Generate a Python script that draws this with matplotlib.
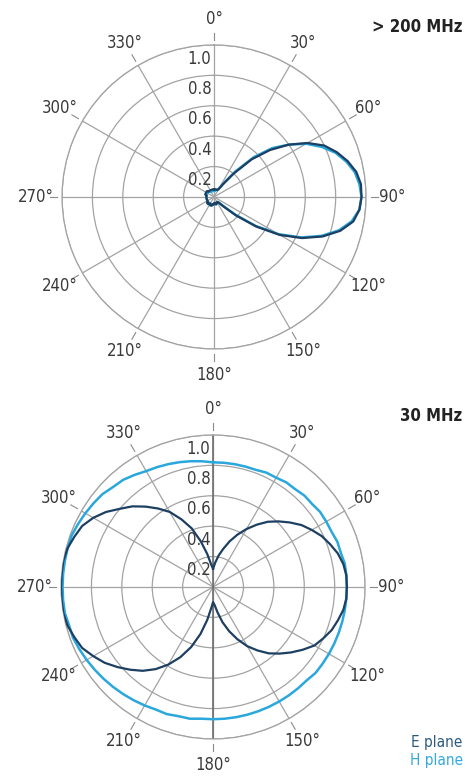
import numpy as np
import matplotlib
matplotlib.use("Agg")
import matplotlib.pyplot as plt
from matplotlib import transforms

plt.rcParams['font.family'] = ['DejaVu Sans']
plt.rcParams['font.stretch'] = 'condensed'

# radiation patterns every 5 degrees (clockwise from 0 at top), normalised field
deg = list(range(0, 365, 5))

# > 200 MHz
hi_e = [0.05, 0.05, 0.05, 0.05, 0.05, 0.05, 0.06, 0.10, 0.20, 0.35,
        0.48, 0.60, 0.71, 0.80, 0.86, 0.91, 0.95, 0.97, 0.97, 0.96,
        0.93, 0.86, 0.76, 0.64, 0.50, 0.34, 0.19, 0.09, 0.05, 0.04,
        0.04, 0.04, 0.05, 0.05, 0.04, 0.04, 0.04, 0.05, 0.05, 0.06,
        0.06, 0.06, 0.05, 0.05, 0.06, 0.06, 0.06, 0.05, 0.05, 0.05,
        0.05, 0.05, 0.05, 0.05, 0.05, 0.05, 0.05, 0.06, 0.06, 0.06,
        0.06, 0.06, 0.06, 0.05, 0.05, 0.05, 0.05, 0.05, 0.05, 0.05,
        0.05, 0.05, 0.05]
hi_h = [0.04, 0.04, 0.05, 0.05, 0.05, 0.05, 0.06, 0.11, 0.22, 0.37,
        0.50, 0.60, 0.70, 0.78, 0.85, 0.90, 0.94, 0.96, 0.97, 0.96,
        0.92, 0.85, 0.75, 0.63, 0.49, 0.33, 0.18, 0.08, 0.05, 0.04,
        0.04, 0.04, 0.04, 0.05, 0.05, 0.05, 0.05, 0.05, 0.05, 0.05,
        0.05, 0.06, 0.06, 0.06, 0.06, 0.06, 0.05, 0.05, 0.05, 0.05,
        0.05, 0.05, 0.05, 0.05, 0.05, 0.05, 0.05, 0.05, 0.05, 0.05,
        0.05, 0.05, 0.05, 0.05, 0.05, 0.04, 0.04, 0.04, 0.04, 0.04,
        0.04, 0.04, 0.04]

# 30 MHz
lo_e = [0.12, 0.16, 0.21, 0.26, 0.32, 0.38, 0.44, 0.50, 0.56, 0.61,
        0.66, 0.71, 0.75, 0.79, 0.82, 0.85, 0.87, 0.88, 0.88, 0.88,
        0.87, 0.85, 0.83, 0.80, 0.77, 0.72, 0.67, 0.62, 0.57, 0.51,
        0.45, 0.38, 0.31, 0.24, 0.17, 0.12, 0.10, 0.14, 0.22, 0.32,
        0.42, 0.51, 0.59, 0.66, 0.72, 0.77, 0.82, 0.87, 0.91, 0.95,
        0.97, 0.99, 1.00, 1.00, 1.00, 1.00, 1.00, 0.99, 0.97, 0.95,
        0.91, 0.86, 0.80, 0.75, 0.69, 0.63, 0.57, 0.49, 0.41, 0.31,
        0.22, 0.15, 0.12]
lo_h = [0.82, 0.82, 0.82, 0.82, 0.82, 0.83, 0.83, 0.84, 0.84, 0.85,
        0.85, 0.86, 0.86, 0.86, 0.87, 0.87, 0.88, 0.88, 0.88, 0.88,
        0.88, 0.88, 0.88, 0.88, 0.88, 0.88, 0.88, 0.87, 0.87, 0.87,
        0.87, 0.87, 0.87, 0.87, 0.87, 0.87, 0.87, 0.87, 0.88, 0.88,
        0.89, 0.89, 0.90, 0.91, 0.92, 0.93, 0.94, 0.95, 0.96, 0.97,
        0.98, 0.98, 0.99, 0.99, 0.99, 0.99, 0.99, 0.99, 0.99, 0.98,
        0.97, 0.96, 0.95, 0.93, 0.92, 0.90, 0.88, 0.87, 0.86, 0.85,
        0.84, 0.83, 0.82]

r_ticks = [0.2, 0.4, 0.6, 0.8, 1.0]
ang_ticks = list(range(0, 360, 30))
ang_labels = [f"{a}°" for a in ang_ticks]

E_COL = '#1d3f62'
H_COL = '#2aa7dc'
GRID = '#a3a3a3'
TXT = '#3a3a3a'

fig = plt.figure(figsize=(4.65, 7.76), dpi=100)


def polar_panel(rect, e, h, title, title_y, dark_axis):
    ax = fig.add_axes(rect, projection='polar')
    ax.set_theta_zero_location('N')
    ax.set_theta_direction(-1)
    ax.set_ylim(0, 1.0)
    ax.set_rticks(r_ticks)
    ax.set_yticklabels([])
    ax.set_thetagrids(ang_ticks, [''] * len(ang_ticks))
    ax.grid(True, color=GRID, lw=0.9)
    ax.spines['polar'].set_color(GRID)
    ax.spines['polar'].set_linewidth(0.9)
    ax.tick_params(length=0)

    if dark_axis:
        ax.plot([0, 0], [0, 1], color='#6e6e6e', lw=1.2, zorder=2)
        ax.plot([np.pi, np.pi], [0, 1], color='#6e6e6e', lw=1.2, zorder=2)

    # angle labels with a short dash towards the ring
    for a, lab in zip(ang_ticks, ang_labels):
        t = np.deg2rad(a)
        ax.plot([t, t], [1.03, 1.08], color='#8a8a8a', lw=0.8, clip_on=False)
        ax.text(t, 1.17, lab, ha='center', va='center', fontsize=12,
                color=TXT, clip_on=False)

    shift = transforms.offset_copy(ax.transData, fig=fig, x=-2, y=0, units='points')
    for v in r_ticks:
        ax.text(0, v - 0.09, f"{v:.1f}", ha='right', va='center', fontsize=12,
                color=TXT, transform=shift, zorder=4)

    th = np.deg2rad(deg)
    ax.plot(th, h, color=H_COL, lw=1.8, zorder=3)
    ax.plot(th, e, color=E_COL, lw=1.6, zorder=3)

    fig.text(0.995, title_y, title, ha='right', va='center', fontsize=12,
             fontweight='bold', color='#222222')
    return ax


polar_panel([0.1333, 0.5503, 0.654, 0.3918], hi_e, hi_h,
            '> 200 MHz', 1 - 27 / 776, False)
polar_panel([0.1312, 0.0477, 0.654, 0.3918], lo_e, lo_h,
            '30 MHz', 1 - 416 / 776, True)

fig.text(0.995, 1 - 742 / 776, 'E plane', ha='right', va='center',
         fontsize=11, color='#2c5a7e')
fig.text(0.995, 1 - 760 / 776, 'H plane', ha='right', va='center',
         fontsize=11, color='#33a9df')

fig.savefig('out.png', dpi=100, facecolor='white')
